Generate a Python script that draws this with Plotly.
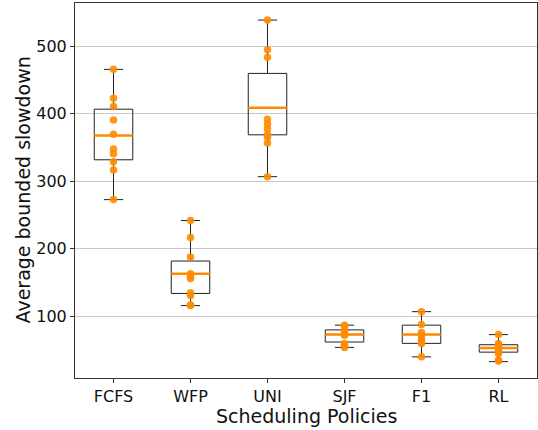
import plotly.graph_objects as go

policies = ["FCFS", "WFP", "UNI", "SJF", "F1", "RL"]

# per-run observed values (dots)
fcfs_pts = [466, 423, 411, 391, 370, 348, 341, 329, 317, 273]
wfp_pts = [242, 217, 188, 163, 159, 156, 135, 131, 117, 116]
uni_pts = [539, 495, 484, 392, 385, 378, 370, 365, 357, 307]
sjf_pts = [87, 84, 78, 75, 73, 72, 60, 58, 56, 54]
f1_pts = [107, 88, 76, 72, 67, 64, 62, 60, 40]
rl_pts = [73, 60, 57, 55, 53, 50, 47, 45, 35, 34]

# box statistics
lower_fence = [273, 116, 307, 54, 40, 33]
q1 = [332, 134, 369, 62, 60, 47]
median = [368, 163, 409, 73, 73, 53]
q3 = [407, 182, 460, 80, 87, 58]
upper_fence = [466, 242, 539, 87, 107, 73]

y_ticks = [100, 200, 300, 400, 500]

all_pts = [fcfs_pts, wfp_pts, uni_pts, sjf_pts, f1_pts, rl_pts]
px, py = [], []
for name, pts in zip(policies, all_pts):
    px += [name] * len(pts)
    py += pts

fig = go.Figure()

fig.add_trace(go.Scatter(
    x=px, y=py, mode="markers",
    marker=dict(color="#ff8c00", size=7.5, opacity=0.9, line=dict(width=0)),
    showlegend=False, hoverinfo="y",
))

fig.add_trace(go.Box(
    x=policies, q1=q1, median=median, q3=q3,
    lowerfence=lower_fence, upperfence=upper_fence,
    width=0.5, whiskerwidth=0.5,
    line=dict(color="#222222", width=1),
    fillcolor="rgba(0,0,0,0)",
    boxpoints=False, showlegend=False,
))

fig.add_trace(go.Box(
    x=policies, q1=median, median=median, q3=median,
    lowerfence=median, upperfence=median,
    width=0.5, whiskerwidth=0,
    line=dict(color="#ff8c00", width=2.5),
    fillcolor="rgba(0,0,0,0)",
    boxpoints=False, showlegend=False,
))

font_family = "DejaVu Sans"
fig.update_layout(
    width=538, height=430,
    margin=dict(l=75, r=1, t=3, b=52),
    plot_bgcolor="white", paper_bgcolor="white",
    boxmode="overlay",
    font=dict(family=font_family, color="#111111", size=16),
    xaxis=dict(
        type="category", categoryorder="array", categoryarray=policies,
        range=[-0.5, 5.5], automargin=False,
        showline=True, mirror=True, linecolor="#333333", linewidth=1,
        ticks="outside", ticklen=4, tickcolor="#333333",
        showgrid=False, zeroline=False,
        tickfont=dict(size=16),
    ),
    yaxis=dict(
        range=[8.7, 564.3], automargin=False,
        tickvals=y_ticks,
        showline=True, mirror=True, linecolor="#333333", linewidth=1,
        ticks="outside", ticklen=4, tickcolor="#333333",
        showgrid=True, gridcolor="#c8c8c8", gridwidth=1,
        zeroline=False,
        tickfont=dict(size=16),
    ),
    annotations=[
        dict(text="Scheduling Policies", xref="paper", yref="paper",
             x=0.5, y=0, xanchor="center", yanchor="middle", yshift=-38,
             showarrow=False, font=dict(size=19)),
        dict(text="Average bounded slowdown", xref="paper", yref="paper",
             x=0, y=0.5, xanchor="center", yanchor="middle", xshift=-53,
             textangle=-90, showarrow=False, font=dict(size=19)),
    ],
)

fig.write_html(
    "out.html",
    config={"displayModeBar": False},
    post_script="document.body.style.margin='0';document.body.style.overflow='hidden';",
)
